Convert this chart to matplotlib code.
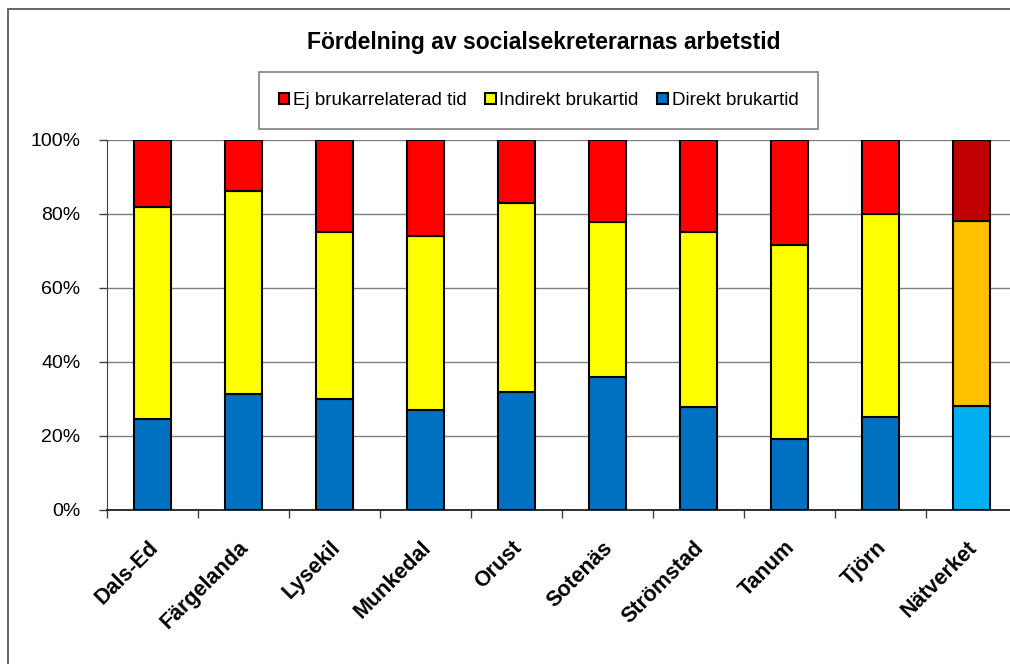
import matplotlib.pyplot as plt
import matplotlib.patches as mpatches
import matplotlib.transforms as mtransforms
import numpy as np

plt.rcParams["font.family"] = ["Liberation Sans", "DejaVu Sans"]

# data (percent)
kommuner = ["Dals-Ed", "Färgelanda", "Lysekil", "Munkedal", "Orust",
            "Sotenäs", "Strömstad", "Tanum", "Tjörn", "Nätverket"]
direkt = [24.4, 31.3, 30.0, 26.9, 31.9, 35.9, 27.8, 19.1, 25.0, 28.0]
indirekt = [57.6, 54.8, 45.2, 47.0, 51.0, 42.0, 47.2, 52.5, 55.0, 50.1]
ej_brukar = [18.0, 13.9, 24.8, 26.1, 17.1, 22.1, 25.0, 28.4, 20.0, 21.9]

serie_namn = ["Ej brukarrelaterad tid", "Indirekt brukartid", "Direkt brukartid"]

# colours: ordinary bars, and the highlighted last bar (Nätverket)
farg_direkt = ["#0070C0"] * 9 + ["#00B0F0"]
farg_indirekt = ["#FFFF00"] * 9 + ["#FFC000"]
farg_ej = ["#FF0000"] * 9 + ["#C00000"]

W, H = 1010, 664
fig = plt.figure(figsize=(W / 100, H / 100), dpi=100)

# outer chart border (runs off the right and bottom edge like the original)
fig.patches.append(mpatches.Rectangle((8 / W, -0.2), 1.2, 1.2 - 9 / H,
                                      transform=fig.transFigure, fill=False,
                                      edgecolor="#595959", linewidth=1.3))

ax = fig.add_axes([107 / W, 1 - 509.5 / H, 910 / W, 369.5 / H])

x = np.arange(len(kommuner))
d = np.array(direkt)
i = np.array(indirekt)
e = np.array(ej_brukar)
bw = 0.40
kw = dict(width=bw, edgecolor="black", linewidth=1.5, zorder=3)
ax.bar(x, d, color=farg_direkt, **kw)
ax.bar(x, i, bottom=d, color=farg_indirekt, **kw)
ax.bar(x, e, bottom=d + i, color=farg_ej, **kw)

ax.set_xlim(-0.5, len(kommuner) - 0.5)
ax.set_ylim(0, 100)
ax.set_yticks(np.arange(0, 101, 20))
ax.set_yticklabels([f"{v}%" for v in range(0, 101, 20)], fontsize=14)
ax.yaxis.grid(True, color="#808080", linewidth=1.0, zorder=0)
ax.tick_params(axis="y", direction="out", length=6, width=1, pad=13,
               color="#404040")

ax.set_xticks(x)
ax.set_xticklabels(kommuner, rotation=45, ha="right", va="top",
                   rotation_mode="anchor", fontsize=15.5, fontweight="bold")
ax.set_xticks(np.arange(-0.5, len(kommuner), 1), minor=True)
ax.tick_params(axis="x", which="major", length=0, pad=20)
ax.tick_params(axis="x", which="minor", length=6, width=1, color="#404040")
skift = mtransforms.ScaledTranslation(-5 / 100, 0, fig.dpi_scale_trans)
for lab in ax.get_xticklabels():
    lab.set_transform(lab.get_transform() + skift)

for s in ["top", "right"]:
    ax.spines[s].set_visible(False)
ax.spines["left"].set_color("#404040")
ax.spines["bottom"].set_color("#202020")
ax.spines["bottom"].set_linewidth(1.3)

fig.text(544 / W, 1 - 42 / H, "Fördelning av socialsekreterarnas arbetstid",
         ha="center", va="center", fontsize=16.5, fontweight="bold")

handles = [mpatches.Patch(facecolor=c, edgecolor="black", linewidth=1.5)
           for c in ["#FF0000", "#FFFF00", "#0070C0"]]
leg = fig.legend(handles, serie_namn, loc="center",
                 bbox_to_anchor=(538.5 / W, 1 - 100.5 / H), ncol=3,
                 fontsize=13.5, frameon=True, fancybox=False,
                 edgecolor="#808080", framealpha=1, borderpad=1.05,
                 handlelength=0.55, handleheight=0.55, handletextpad=0.2,
                 columnspacing=1.0)
leg.get_frame().set_linewidth(1.2)

fig.savefig("out.png", dpi=100)
